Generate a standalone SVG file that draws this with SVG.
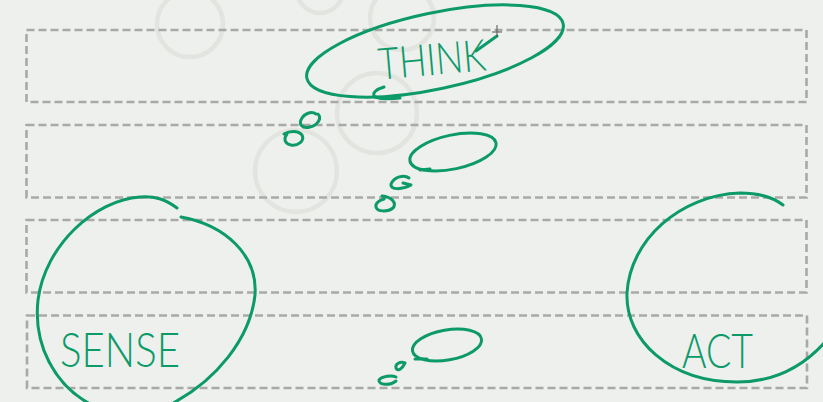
<svg xmlns="http://www.w3.org/2000/svg" width="823" height="402" viewBox="0 0 823 402">
<style>
.lane{fill:none;stroke:#a9a9a9;stroke-width:2.6;stroke-dasharray:8 4}
.ghost{fill:none;stroke:#e2e4e0;stroke-width:4.5}
.ink{fill:none;stroke:#0b9a68;stroke-width:3;stroke-linecap:round;stroke-linejoin:round}
.label{fill:#0b9a68;font-family:Lato,"Liberation Sans",sans-serif;font-weight:300}
</style>
<rect width="823" height="402" fill="#eef0ed"/>
<g id="background">
<circle class="ghost" cx="190" cy="24" r="33"/>
<circle class="ghost" cx="320" cy="-10" r="23"/>
<circle class="ghost" cx="402" cy="18" r="32"/>
<circle class="ghost" cx="377" cy="113" r="40"/>
<circle class="ghost" cx="296" cy="171" r="41"/>
</g>
<g id="lanes">
<rect class="lane" x="26.5" y="30" width="780" height="72"/>
<rect class="lane" x="26.5" y="125" width="780" height="72.5"/>
<rect class="lane" x="26.5" y="220" width="780" height="72.5"/>
<rect class="lane" x="27" y="315.5" width="780" height="72.5"/>
</g>
<g id="connectors">
<path class="ink" d="M318,114 C322,118 318,125 310,127 C302,129 298,124 302,118 C305,113 312,111 316,114"/>
<path class="ink" d="M284,134 C289,131 298,130 302,135 C305,141 298,146 291,145 C285,144 283,139 287,134"/>
<path class="ink" d="M409,178 C404,174 394,177 391,184 C390,190 402,190 411,185 L403,183"/>
<path class="ink" d="M382,196 C392,197 397,203 393,208 C388,212 377,212 376,207 C375,203 380,200 384,199"/>
<path class="ink" d="M405,363 C402,369 398,372 396,368 C395,364 400,361 405,363"/>
<path class="ink" d="M396,377 C392,375 382,376 379,380 C378,385 390,386 396,381"/>
</g>
<g id="think">
<ellipse class="ink" cx="435" cy="51" rx="131" ry="38" transform="rotate(-12 435 51)"/>
<path class="ink" d="M384,87 C377,89 371,93 375,97 C381,99 392,99 400,98"/>
<text class="label" x="432" y="75" font-size="44" text-anchor="middle" textLength="108" lengthAdjust="spacingAndGlyphs" transform="rotate(-5 432 59)">THINK</text>
<line class="ink" x1="476" y1="51" x2="497" y2="36"/>
<path d="M497,25 V37 M492,32 H502" stroke="#555" stroke-width="1" fill="none"/>
</g>
<g id="think2">
<ellipse class="ink" cx="453" cy="152" rx="44" ry="17" transform="rotate(-12 453 152)"/>
<path class="ink" d="M420,170 L430,169"/>
</g>
<g id="think3">
<ellipse class="ink" cx="447" cy="345" rx="35" ry="15" transform="rotate(-10 447 345)"/>
<path class="ink" d="M415,359 L427,359"/>
</g>
<g id="sense">
<path class="ink" d="M177,208 C165,199 155,196 140,197 C95,200 45,245 38,300 C33,345 55,385 90,404 C120,420 160,415 175,402 C215,380 250,340 255,295 C258,255 225,225 181,217"/>
<text class="label" x="60" y="367" font-size="48" textLength="120" lengthAdjust="spacingAndGlyphs">SENSE</text>
</g>
<g id="act">
<path class="ink" d="M783,205 C770,195 755,193 740,193 C680,195 630,240 627,293 C625,340 670,382 737,382 C770,382 800,370 825,342"/>
<text class="label" x="682" y="368" font-size="48" textLength="71" lengthAdjust="spacingAndGlyphs">ACT</text>
</g>
</svg>
